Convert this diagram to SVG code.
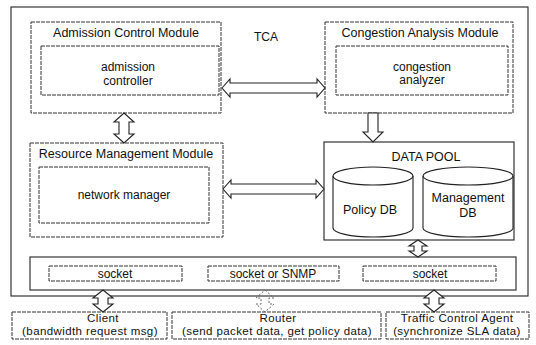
<svg xmlns="http://www.w3.org/2000/svg" width="536" height="345" viewBox="0 0 536 345">
<style>
  .box{fill:#fff;stroke:#222;stroke-width:1.1}
  .mod{fill:#fff;stroke:#333;stroke-width:1;stroke-dasharray:4 1}
  .arr{fill:#fff;stroke:#222;stroke-width:1.1;stroke-linejoin:miter}
  .faint{fill:none;stroke:#666;stroke-width:1;stroke-dasharray:2 2}
  text{font-family:"Liberation Sans",Arial,sans-serif;font-size:12px;fill:#111;text-anchor:middle}
  .t{font-size:12.5px}
  .s{font-size:11.5px;letter-spacing:0.4px}
</style>
<rect width="536" height="345" fill="#fff"/>
<g id="tca">
  <rect class="box" x="11" y="7" width="517" height="289"/>
  <text x="266" y="41" font-size="11">TCA</text>
</g>
<g id="admission-module">
  <rect class="mod" x="31" y="22" width="190" height="91"/>
  <text class="t" x="126" y="37">Admission Control Module</text>
  <g id="admission-controller">
    <rect class="mod" x="41" y="46" width="178" height="49"/>
    <text x="128" y="71">admission</text>
    <text x="128" y="85">controller</text>
  </g>
</g>
<g id="congestion-module">
  <rect class="mod" x="325" y="22" width="188" height="91"/>
  <text class="t" x="420" y="37">Congestion Analysis Module</text>
  <g id="congestion-analyzer">
    <rect class="mod" x="336" y="46" width="172" height="49"/>
    <text x="422" y="71">congestion</text>
    <text x="422" y="84" font-size="11">analyzer</text>
  </g>
</g>
<g id="resource-module">
  <rect class="mod" x="30" y="143" width="193" height="94"/>
  <text class="t" x="126" y="158">Resource Management Module</text>
  <g id="network-manager">
    <rect class="mod" x="39" y="167" width="170" height="56"/>
    <text x="124" y="199">network manager</text>
  </g>
</g>
<g id="data-pool">
  <rect class="box" x="324" y="142" width="190" height="98"/>
  <text class="t" x="426" y="161">DATA POOL</text>
  <g id="policy-db">
    <path class="box" d="M333,176 A40,9 0 0 1 413,176 L413,228 A40,9 0 0 1 333,228 Z"/>
    <path d="M333,176 A40,9 0 0 0 413,176" fill="none" stroke="#222" stroke-width="1.1"/>
    <text class="t" x="370" y="214">Policy DB</text>
  </g>
  <g id="management-db">
    <path class="box" d="M423,176 A45,9 0 0 1 513,176 L513,228 A45,9 0 0 1 423,228 Z"/>
    <path d="M423,176 A45,9 0 0 0 513,176" fill="none" stroke="#222" stroke-width="1.1"/>
    <text class="t" x="468" y="202">Management</text>
    <text class="t" x="468" y="217">DB</text>
  </g>
</g>
<g id="socket-layer">
  <rect class="box" x="30" y="257" width="486" height="33"/>
  <g id="socket-1">
    <rect class="mod" x="49" y="266" width="133" height="15"/>
    <text x="115" y="278">socket</text>
  </g>
  <g id="socket-snmp">
    <rect class="mod" x="208" y="266" width="131" height="15"/>
    <text x="273" y="278">socket or SNMP</text>
  </g>
  <g id="socket-3">
    <rect class="mod" x="363" y="266" width="133" height="15"/>
    <text x="430" y="278">socket</text>
  </g>
</g>
<g id="client">
  <rect class="mod" x="12" y="312" width="155" height="27"/>
  <text class="s" x="103" y="322">Client</text>
  <text class="s" x="90" y="335">(bandwidth request msg)</text>
</g>
<g id="router">
  <rect class="mod" x="172" y="312" width="209" height="27"/>
  <text class="s" x="278" y="322">Router</text>
  <text class="s" x="277" y="335">(send packet data, get policy data)</text>
</g>
<g id="traffic-control-agent">
  <rect class="mod" x="386" y="312" width="143" height="27"/>
  <text class="s" x="457" y="322">Traffic Control Agent</text>
  <text class="s" x="457" y="335">(synchronize SLA data)</text>
</g>
<g id="connectors">
  <!-- admission <-> congestion -->
  <path class="arr" d="M222,88 L230,79 L230,83 L317,83 L317,79 L325,88 L317,97 L317,93 L230,93 L230,97 Z"/>
  <!-- resource <-> data pool -->
  <path class="arr" d="M223,189 L231,180 L231,184 L316,184 L316,180 L324,189 L316,198 L316,194 L231,194 L231,198 Z"/>
  <!-- admission <-> resource -->
  <path class="arr" d="M124,113 L134,122 L129,122 L129,134 L134,134 L124,143 L114,134 L119,134 L119,122 L114,122 Z"/>
  <!-- congestion -> data pool -->
  <path class="arr" d="M368,113 L378,113 L378,132 L383,132 L373,142 L363,132 L368,132 Z"/>
  <!-- data pool <-> socket layer -->
  <path class="arr" d="M418,240 L427,246 L422,246 L422,251 L427,251 L418,257 L409,251 L414,251 L414,246 L409,246 Z"/>
  <!-- client -->
  <path class="arr" d="M103,290 L113,298 L108,298 L108,304 L113,304 L103,312 L93,304 L98,304 L98,298 L93,298 Z"/>
  <!-- router (faint) -->
  <path class="faint" d="M265,290 L274,298 L269,298 L269,304 L274,304 L265,312 L256,304 L261,304 L261,298 L256,298 Z"/>
  <!-- traffic control agent -->
  <path class="arr" d="M434,290 L444,298 L439,298 L439,304 L444,304 L434,312 L424,304 L429,304 L429,298 L424,298 Z"/>
</g>
</svg>
